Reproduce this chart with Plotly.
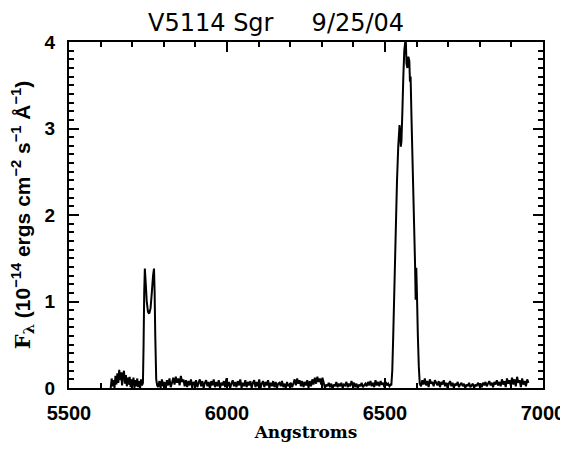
import numpy as np
import plotly.graph_objects as go

# ---- data ----
# blue continuum, starts at 5632 A, sampled every 3 A
flux_a = [0.00, 0.11, 0.02, 0.09, 0.00, 0.14, 0.04, 0.17, 0.06, 0.21, 0.09, 0.18,
          0.03, 0.16, 0.20, 0.05, 0.15, 0.02, 0.12, 0.04, 0.13, 0.01, 0.10, 0.03,
          0.12, 0.00, 0.09, 0.02, 0.11, 0.01, 0.08, 0.00, 0.10, 0.03]
wl_a = 5632 + 3 * np.arange(len(flux_a))

# [N II] 5755 double-peaked line
wl_l1 = [5734, 5736, 5738, 5740, 5743, 5746, 5750, 5754, 5758, 5762, 5766, 5769,
         5771, 5773, 5776, 5779]
flux_l1 = [0.06, 0.50, 1.10, 1.38, 1.20, 1.00, 0.88, 0.86, 0.92, 1.10, 1.30, 1.38,
           1.10, 0.60, 0.10, 0.03]

# continuum between lines, starts at 5782 A, sampled every 4 A
flux_b = [0.01, 0.08, 0.00, 0.10, 0.02, 0.07, -0.01, 0.09, 0.03, 0.11, 0.01, 0.06,
          0.12, 0.04, 0.13, 0.06, 0.11, 0.03, 0.14, 0.07, 0.10, 0.02, 0.09, 0.01,
          0.08, 0.03, 0.10, 0.00, 0.07, 0.04, 0.09, 0.01, 0.06, 0.10, 0.02, 0.08,
          0.00, 0.06, 0.09, 0.02, 0.07, -0.01, 0.08, 0.03, 0.10, 0.01, 0.07, 0.02,
          0.09, 0.00, 0.06, 0.03, 0.08, 0.01, 0.11, 0.02, 0.07, 0.00, 0.05, 0.09,
          0.02, 0.07, 0.01, 0.08, 0.03, 0.10, 0.00, 0.06, 0.02, 0.09, 0.01, 0.07,
          0.03, 0.08, 0.00, 0.06, 0.09, 0.01, 0.07, 0.02, 0.10, 0.00, 0.05, 0.08,
          0.01, 0.07, 0.03, 0.09, 0.00, 0.06, 0.02, 0.08, 0.01, 0.07, 0.00, 0.05,
          0.06, 0.02, 0.08, 0.01, 0.05, 0.00, 0.07, 0.02, 0.04, 0.06, 0.01, 0.05,
          0.10, 0.03, 0.11, 0.05, 0.09, 0.02, 0.08, 0.01, 0.07, 0.03, 0.09, 0.00,
          0.08, 0.02, 0.10, 0.04, 0.12, 0.05, 0.13, 0.07, 0.11, 0.04, 0.12, 0.06,
          0.00, 0.04, 0.02, 0.06, 0.01, 0.05, -0.01, 0.04, 0.02, 0.07, 0.01, 0.05,
          0.02, 0.06, 0.00, 0.04, 0.03, 0.07, 0.01, 0.05, 0.02, 0.08, 0.03, 0.06,
          0.01, 0.05, 0.00, 0.04, 0.02, 0.06, 0.01, 0.03, 0.05, 0.02, 0.07, 0.03,
          0.08, 0.02, 0.06, 0.01, 0.09, 0.03, 0.07, 0.02, 0.08, 0.04, 0.06, 0.01,
          0.07, 0.03, 0.05, 0.02, 0.04]
wl_b = 5782 + 4 * np.arange(len(flux_b))

# H-alpha + [N II] blend
wl_ha = [6520, 6523, 6526, 6530, 6534, 6538, 6542, 6546, 6548, 6550, 6552, 6555,
         6558, 6561, 6564, 6566, 6568, 6571, 6574, 6577, 6579, 6581, 6584, 6588,
         6592, 6595, 6597, 6599, 6601, 6604, 6607, 6610]
flux_ha = [0.03, 0.20, 0.60, 1.20, 1.80, 2.40, 2.80, 3.04, 2.95, 2.79, 2.85, 3.20,
           3.60, 3.90, 4.00, 4.00, 3.75, 3.70, 3.83, 3.78, 3.54, 3.60, 3.10, 2.50,
           1.90, 1.45, 1.02, 1.39, 1.10, 0.60, 0.25, 0.05]

# red continuum, starts at 6614 A, sampled every 4 A
flux_c = [0.02, 0.09, 0.04, 0.11, 0.03, 0.08, 0.01, 0.10, 0.05, 0.07, 0.02, 0.09,
          0.06, 0.03, 0.08, 0.01, 0.07, 0.04, 0.09, 0.02, 0.06, 0.00, 0.05, 0.08,
          0.02, 0.06, 0.00, 0.05, 0.03, 0.07, 0.01, 0.04, 0.06, 0.02, 0.05, 0.00,
          0.04, 0.02, 0.06, 0.01, 0.03, 0.05, 0.00, 0.04, 0.02, 0.06, 0.03, 0.05,
          0.01, 0.06, 0.03, 0.07, 0.02, 0.05, 0.08, 0.03, 0.06, 0.01, 0.07, 0.04,
          0.09, 0.03, 0.07, 0.02, 0.10, 0.04, 0.08, 0.01, 0.11, 0.05, 0.09, 0.03,
          0.12, 0.04, 0.10, 0.02, 0.13, 0.06, 0.09, 0.01, 0.11, 0.04, 0.08, 0.02,
          0.10, 0.06]
wl_c = 6614 + 4 * np.arange(len(flux_c))

x_ticks = [5500, 6000, 6500, 7000]
y_ticks = [0, 1, 2, 3, 4]
x_range = [5500, 7000]
y_range = [0, 4]

wl = list(wl_a) + wl_l1 + list(wl_b) + wl_ha + list(wl_c)
flux = flux_a + flux_l1 + flux_b + flux_ha + flux_c

fig = go.Figure()
fig.add_trace(go.Scatter(x=wl, y=flux, mode="lines",
                         line=dict(color="black", width=2, simplify=False),
                         showlegend=False))
# invisible copy on a coincident subplot that carries the top/right tick marks
fig.add_trace(go.Scatter(x=wl, y=flux, mode="lines", xaxis="x2", yaxis="y2",
                         line=dict(color="rgba(0,0,0,0)", width=1),
                         showlegend=False, hoverinfo="skip"))

tickfont_x = dict(family="Liberation Sans", size=20, color="black", weight="bold")
tickfont_y = dict(family="Liberation Sans", size=19, color="black", weight="bold")
hidden_font = dict(size=1, color="rgba(0,0,0,0)")

minor_x = dict(dtick=100, ticks="inside", ticklen=5, tickwidth=2, tickcolor="black",
               showgrid=False)
minor_y = dict(dtick=0.1, ticks="inside", ticklen=5, tickwidth=2, tickcolor="black",
               showgrid=False)

# page body has an 8px margin; keep the figure inside the 568x450 window
W, H = 560, 434

fig.update_layout(
    width=W, height=H,
    margin=dict(l=61, r=25, t=34, b=54),
    paper_bgcolor="white", plot_bgcolor="rgba(0,0,0,0)",
    title=dict(text="V5114 Sgr\u00a0\u00a0\u00a0\u00a0\u00a09/25/04",
               font=dict(family="DejaVu Sans", size=24, color="black"),
               xref="container", x=140/W, xanchor="left",
               yref="container", y=1-15/H, yanchor="middle"),
    xaxis=dict(range=x_range, tickvals=x_ticks, ticktext=[str(v) for v in x_ticks],
               ticks="inside", ticklen=10, tickwidth=2, tickcolor="black",
               showgrid=False, zeroline=False, automargin=False,
               showline=True, linecolor="black", linewidth=2, mirror=True,
               minor=minor_x, tickfont=tickfont_x, ticklabelstandoff=6,
               ticklabeloverflow="allow",
               title=dict(text="<b>Angstroms</b>",
                          font=dict(family="DejaVu Serif", size=17, color="black"),
                          standoff=5)),
    yaxis=dict(range=y_range, tickvals=y_ticks, ticktext=[str(v) for v in y_ticks],
               ticks="inside", ticklen=10, tickwidth=2, tickcolor="black",
               showgrid=False, zeroline=False, automargin=False,
               showline=True, linecolor="black", linewidth=2, mirror=True,
               minor=minor_y, tickfont=tickfont_y, ticklabelstandoff=8,
               title=dict(text="\u00a0\u00a0\u00a0\u00a0<span style=\"font-family:'DejaVu Serif'\">F<sub>λ</sub></span>"
                               " (10<sup>−14</sup> ergs cm<sup>−2</sup> s<sup>−1</sup> Å<sup>−1</sup>)",
                          font=dict(family="Liberation Sans", size=21, color="black",
                                    weight="bold"),
                          standoff=11)),
    xaxis2=dict(range=x_range, tickmode="linear", tick0=x_ticks[0],
                dtick=x_ticks[1] - x_ticks[0],
                side="top", anchor="y2", domain=[0, 1],
                ticks="inside", ticklen=10, tickwidth=2, tickcolor="black",
                showgrid=False, zeroline=False, showline=False,
                showticklabels=True, tickfont=hidden_font, automargin=False,
                minor=minor_x),
    yaxis2=dict(range=y_range, tickmode="linear", tick0=y_ticks[0],
                dtick=y_ticks[1] - y_ticks[0],
                side="right", anchor="x2", domain=[0, 1],
                ticks="inside", ticklen=10, tickwidth=2, tickcolor="black",
                showgrid=False, zeroline=False, showline=False,
                showticklabels=True, tickfont=hidden_font, automargin=False,
                minor=minor_y),
)

fig.write_html("out.html")
